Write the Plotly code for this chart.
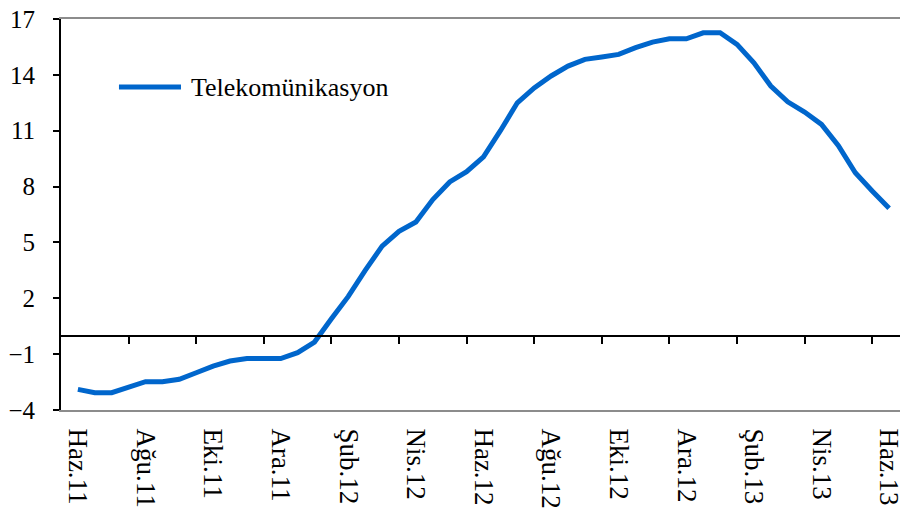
import plotly.graph_objects as go

# Semi-monthly observations, Haz.11 .. Haz.13
series_name = "Telekomünikasyon"
values = [
    -2.89, -3.07, -3.07, -2.80, -2.48, -2.48, -2.35, -2.00, -1.64, -1.37,
    -1.24, -1.24, -1.24, -0.92, -0.35, 0.90, 2.10, 3.50, 4.80, 5.60,
    6.10, 7.30, 8.25, 8.80, 9.60, 11.00, 12.50, 13.30, 13.94, 14.47,
    14.83, 14.96, 15.10, 15.46, 15.76, 15.94, 15.94, 16.26, 16.26, 15.64,
    14.65, 13.40, 12.55, 12.00, 11.34, 10.20, 8.74, 7.76, 6.83,
]
tick_labels = ["Haz.11", "Ağu.11", "Eki.11", "Ara.11", "Şub.12", "Nis.12", "Haz.12",
               "Ağu.12", "Eki.12", "Ara.12", "Şub.13", "Nis.13", "Haz.13"]
y_ticks = [-4, -1, 2, 5, 8, 11, 14, 17]

x = list(range(len(values)))
label_pos = x[::4]
minor_ticks = x[3::4]

FONT = "Liberation Serif, Times New Roman, serif"
BLUE = "#0066CC"
Y_MIN, Y_MAX = -4, 17
X_RANGE = [-1, 49]

fig = go.Figure()
fig.add_trace(go.Scatter(x=x, y=values, mode="lines", name=series_name,
                         line=dict(color=BLUE, width=5), showlegend=False))
# invisible companion trace so the zero-line axis (x2) is drawn
fig.add_trace(go.Scatter(x=x, y=values, xaxis="x2", mode="lines", opacity=0,
                         line=dict(width=0), hoverinfo="skip", showlegend=False))

# the page body has an 8px default margin, so the figure is 8px smaller
fig.update_layout(
    width=900, height=506,
    margin=dict(l=53, r=2, t=11, b=104, autoexpand=False),
    paper_bgcolor="white", plot_bgcolor="white",
    font=dict(family=FONT, color="black"),
    xaxis=dict(range=X_RANGE, tickvals=label_pos, ticktext=tick_labels,
               tickangle=90, ticks="", showgrid=False, zeroline=False,
               showline=True, linecolor="#8c8c8c", linewidth=2, mirror=True,
               automargin=False, ticklabeloverflow="allow",
               tickfont=dict(size=27, family=FONT), ticklabelstandoff=11),
    xaxis2=dict(range=X_RANGE, overlaying="x", anchor="free",
                position=(0 - Y_MIN) / (Y_MAX - Y_MIN),
                tickvals=minor_ticks, showticklabels=False, ticks="outside",
                ticklen=7, tickwidth=2, tickcolor="black",
                showline=True, linecolor="black", linewidth=2,
                showgrid=False, zeroline=False, automargin=False),
    yaxis=dict(range=[Y_MIN, Y_MAX], tickvals=y_ticks, ticks="outside",
               ticklen=6, tickwidth=2, tickcolor="black",
               showline=True, linecolor="black", linewidth=2,
               showgrid=False, zeroline=False, automargin=False,
               ticklabeloverflow="allow",
               tickfont=dict(size=25, family=FONT), ticklabelstandoff=13),
    shapes=[
        dict(type="line", xref="paper", yref="paper", x0=1, x1=1, y0=0, y1=1,
             line=dict(color="#8c8c8c", width=2)),
        dict(type="line", xref="paper", yref="paper", x0=0.0686, x1=0.142,
             y0=0.826, y1=0.826, line=dict(color=BLUE, width=5)),
    ],
    annotations=[
        dict(text=series_name, xref="paper", yref="paper", x=0.1515, y=0.826,
             xanchor="left", yanchor="middle", showarrow=False,
             font=dict(size=26, family=FONT, color="black")),
    ],
)

fig.write_html("out.html")
